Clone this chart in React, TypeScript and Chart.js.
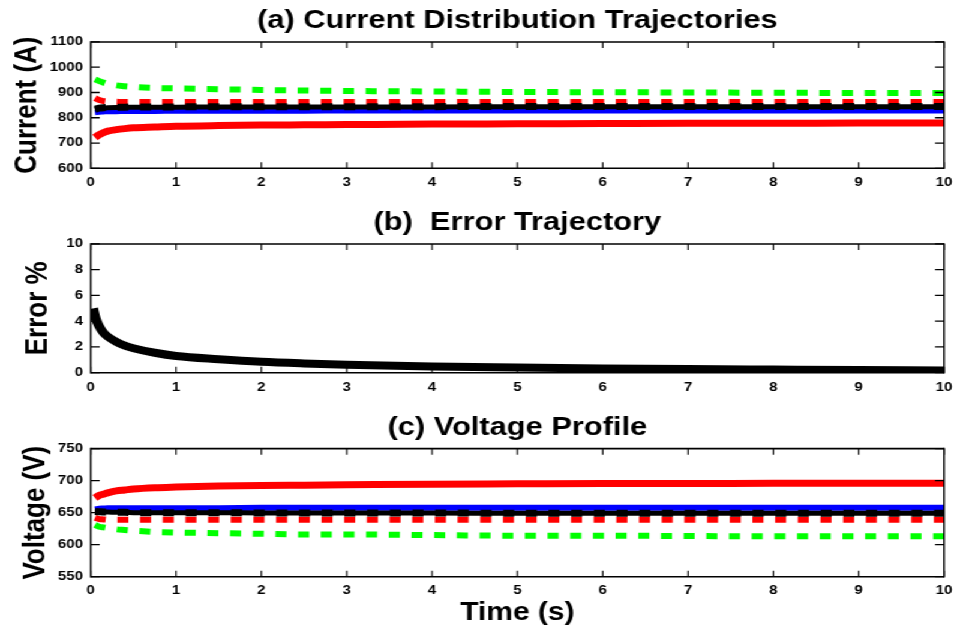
import React, { useEffect, useRef } from 'react';
import { Chart, registerables } from 'chart.js';

Chart.register(...registerables);

// ---------------- data ----------------
const time = [0.05, 0.1, 0.15, 0.2, 0.3, 0.4, 0.5, 0.75, 1, 1.5, 2, 2.5, 3, 4, 5, 6, 7, 8, 9, 10];

// (a) current distribution (A)
const currentGreenDashed = [952, 945, 939, 934, 928, 925, 922, 918, 916, 913, 910, 908, 906, 904, 902, 901, 900, 899, 898, 898];
const currentRedDashed = [878, 870, 866, 864, 863, 862, 862, 862, 862, 862, 862, 862, 862, 862, 862, 862, 862, 862, 862, 862];
const currentBlack = [832, 837, 839, 840, 841, 841, 842, 842, 842, 843, 843, 843, 843, 843, 844, 844, 844, 844, 844, 844];
const currentBlackDashed = [834, 838, 840, 841, 842, 842, 843, 843, 843, 844, 844, 844, 844, 844, 845, 845, 845, 845, 845, 845];
const currentBlue = [820, 822, 823, 824, 824, 825, 825, 825, 826, 826, 826, 826, 827, 827, 827, 827, 827, 827, 827, 827];
const currentRed = [722, 733, 741, 747, 753, 757, 760, 763, 766, 769, 771, 772, 773, 775, 776, 777, 778, 778, 779, 779];

// (b) error trajectory (%)
const errorTime = [0.03, 0.06, 0.1, 0.15, 0.2, 0.3, 0.4, 0.5, 0.75, 1, 1.5, 2, 2.5, 3, 4, 5, 6, 7, 8, 9, 10];
const errorPct = [5.0, 4.2, 3.6, 3.1, 2.8, 2.4, 2.1, 1.9, 1.55, 1.3, 1.05, 0.85, 0.72, 0.62, 0.48, 0.4, 0.33, 0.28, 0.24, 0.2, 0.17];

// (c) voltage profile (V)
const voltageRed = [673, 677, 679, 681, 684, 685.5, 687, 689, 690, 691.5, 692.5, 693, 693.5, 694.5, 695, 695.5, 695.5, 696, 696, 696];
const voltageBlue = [655, 656, 656.5, 657, 657, 657, 657, 657, 657, 657, 657.5, 657.5, 657.5, 657.5, 657.5, 657.5, 657.5, 657.5, 657.5, 657.5];
const voltageBlack = [652, 651.5, 651, 651, 650.5, 650.5, 650, 650, 650, 650, 649.5, 649.5, 649.5, 649.5, 649, 649, 649, 649, 649, 649];
const voltageBlackDashed = [652, 651.5, 651, 651, 650.5, 650.5, 650, 650, 650, 650, 649.5, 649.5, 649.5, 649.5, 649, 649, 649, 649, 649, 649];
const voltageRedDashed = [642, 640, 639.5, 639, 639, 639, 639, 639, 639, 639, 639, 639, 639, 639, 639, 639, 639, 639, 639, 639];
const voltageGreenDashed = [631, 628, 627, 626, 624, 623, 622, 620, 619, 618, 617, 616, 616, 615, 614, 614, 613.5, 613, 613, 613];

const xTicks = { min: 0, max: 10, step: 1 };
const currentTicks = { min: 600, max: 1100, step: 100 };
const errorTicks = { min: 0, max: 10, step: 2 };
const voltageTicks = { min: 550, max: 750, step: 50 };

// ---------------- layout ----------------
const STRETCH = 1.2;
const INNER_W = 795;
const Y_AXIS_W = 75.6;
const RIGHT_PAD = 8.3;
const FONT = "'Liberation Sans', Arial, Helvetica, sans-serif";
const DASH = [9.2, 9.7];

Chart.defaults.font.family = FONT;
Chart.defaults.color = '#000';

const framePlugin = {
  id: 'matlabFrame',
  afterDatasetsDraw(chart: any) {
    const { ctx, chartArea } = chart;
    const { left, right, top, bottom } = chartArea;
    const x = chart.scales.x;
    const y = chart.scales.y;
    ctx.save();
    ctx.strokeStyle = '#000';
    ctx.lineCap = 'butt';
    ctx.lineWidth = 1.6;
    ctx.beginPath();
    ctx.moveTo(left, top); ctx.lineTo(right, top);
    ctx.moveTo(left, bottom); ctx.lineTo(right, bottom);
    ctx.stroke();
    ctx.lineWidth = 1.4;
    ctx.beginPath();
    ctx.moveTo(left, top - 0.8); ctx.lineTo(left, bottom + 0.8);
    ctx.moveTo(right, top - 0.8); ctx.lineTo(right, bottom + 0.8);
    ctx.stroke();
    ctx.lineWidth = 1.1;
    ctx.beginPath();
    x.ticks.forEach((t: any) => {
      const px = x.getPixelForValue(t.value);
      ctx.moveTo(px, bottom); ctx.lineTo(px, bottom - 6);
      ctx.moveTo(px, top); ctx.lineTo(px, top + 6);
    });
    ctx.stroke();
    ctx.lineWidth = 1.3;
    ctx.beginPath();
    y.ticks.forEach((t: any) => {
      const py = y.getPixelForValue(t.value);
      ctx.moveTo(left, py); ctx.lineTo(left + 7.5, py);
      ctx.moveTo(right, py); ctx.lineTo(right - 7.5, py);
    });
    ctx.stroke();
    ctx.restore();
  },
};

function series(xs: number[], ys: number[], color: string, width: number, dashed: boolean) {
  return {
    data: xs.map((t, i) => ({ x: t, y: ys[i] })),
    borderColor: color,
    backgroundColor: color,
    borderWidth: width,
    borderDash: dashed ? DASH : [],
    borderCapStyle: 'butt',
    borderJoinStyle: 'round',
    pointRadius: 0,
    fill: false,
    cubicInterpolationMode: 'monotone',
  };
}

const plainNumber = (v: any) => String(v);

function buildConfig(opts: {
  title: string;
  titlePad: { top: number; bottom: number };
  yTitle: string;
  yTitlePad: number;
  yTicks: { min: number; max: number; step: number };
  datasets: any[];
  xAxisHeight: number;
  xTickPad: number;
  xTitle?: string;
}) {
  return {
    type: 'line',
    data: { datasets: opts.datasets },
    plugins: [framePlugin],
    options: {
      animation: false,
      responsive: false,
      maintainAspectRatio: false,
      devicePixelRatio: 1,
      layout: { padding: { left: 0, right: RIGHT_PAD, top: 0, bottom: 0 } },
      plugins: {
        legend: { display: false },
        tooltip: { enabled: false },
        title: {
          display: true,
          text: opts.title,
          fullSize: false,
          color: '#000',
          font: { size: 25.7, weight: 'bold', family: FONT, lineHeight: 1.2 },
          padding: opts.titlePad,
        },
      },
      scales: {
        x: {
          type: 'linear',
          min: xTicks.min,
          max: xTicks.max,
          grid: { display: false, drawTicks: false },
          border: { display: false },
          ticks: {
            stepSize: xTicks.step,
            padding: opts.xTickPad,
            maxRotation: 0,
            autoSkip: false,
            color: '#000',
            callback: plainNumber,
            font: { size: 12.5, weight: 'bold', family: FONT },
          },
          title: opts.xTitle
            ? {
                display: true,
                text: opts.xTitle,
                color: '#000',
                font: { size: 25, weight: 'bold', family: FONT, lineHeight: 1.2 },
                padding: { top: 0, bottom: -0.5 },
              }
            : { display: false },
          afterFit: (s: any) => {
            s.height = opts.xAxisHeight;
            s.paddingLeft = 0;
            s.paddingRight = 0;
          },
        },
        y: {
          type: 'linear',
          min: opts.yTicks.min,
          max: opts.yTicks.max,
          grid: { display: false, drawTicks: false },
          border: { display: false },
          ticks: {
            stepSize: opts.yTicks.step,
            padding: 6.4,
            autoSkip: false,
            color: '#000',
            callback: plainNumber,
            font: { size: 12.5, weight: 'bold', family: FONT },
          },
          title: {
            display: true,
            text: opts.yTitle,
            color: '#000',
            font: { size: 26, weight: 'bold', family: FONT, lineHeight: 1.2 },
            padding: { top: opts.yTitlePad, bottom: 0 },
          },
          afterFit: (s: any) => {
            s.width = Y_AXIS_W;
            s.paddingTop = 0;
            s.paddingBottom = 0;
          },
        },
      },
    },
  };
}

function Panel({ top, height, build }: { top: number; height: number; build: () => any }) {
  const ref = useRef<HTMLCanvasElement | null>(null);
  useEffect(() => {
    if (!ref.current) return;
    const chart = new Chart(ref.current, build());
    return () => chart.destroy();
  }, []);
  return (
    <div style={{ position: 'absolute', left: 0, top, width: INNER_W, height }}>
      <canvas ref={ref} width={INNER_W} height={height} style={{ display: 'block' }} />
    </div>
  );
}

export default function App() {
  const buildA = () =>
    buildConfig({
      title: '(a) Current Distribution Trajectories',
      titlePad: { top: 5, bottom: 6.1 },
      yTitle: 'Current (A)',
      yTitlePad: 7.4,
      yTicks: currentTicks,
      xAxisHeight: 31.7,
      xTickPad: 6.5,
      datasets: [
        series(time, currentBlackDashed, '#000000', 7, true),
        series(time, currentBlack, '#000000', 5, false),
        series(time, currentBlue, '#0000ff', 5, false),
        series(time, currentRedDashed, '#ff0000', 6, true),
        series(time, currentRed, '#ff0000', 7, false),
        series(time, currentGreenDashed, '#00ff00', 6, true),
      ],
    });
  const buildB = () =>
    buildConfig({
      title: '(b)  Error Trajectory',
      titlePad: { top: 7.5, bottom: 5.6 },
      yTitle: 'Error %',
      yTitlePad: 16.4,
      yTicks: errorTicks,
      xAxisHeight: 32.3,
      xTickPad: 7,
      datasets: [series(errorTime, errorPct, '#000000', 8, false)],
    });
  const buildC = () =>
    buildConfig({
      title: '(c) Voltage Profile',
      titlePad: { top: 7.5, bottom: 5.3 },
      yTitle: 'Voltage (V)',
      yTitlePad: 14.4,
      yTicks: voltageTicks,
      xAxisHeight: 51.3,
      xTickPad: 6.5,
      xTitle: 'Time (s)',
      datasets: [
        series(time, voltageBlackDashed, '#000000', 7, true),
        series(time, voltageBlack, '#000000', 5, false),
        series(time, voltageBlue, '#0000ff', 6, false),
        series(time, voltageRedDashed, '#ff0000', 6, true),
        series(time, voltageRed, '#ff0000', 7, false),
        series(time, voltageGreenDashed, '#00ff00', 6, true),
      ],
    });

  return (
    <div
      style={{
        position: 'absolute',
        left: 0,
        top: 0,
        width: INNER_W,
        height: 628,
        background: '#fff',
        transform: `scaleX(${STRETCH})`,
        transformOrigin: '0 0',
      }}
    >
      <Panel top={0} height={200} build={buildA} />
      <Panel top={200} height={205} build={buildB} />
      <Panel top={405} height={223} build={buildC} />
    </div>
  );
}
